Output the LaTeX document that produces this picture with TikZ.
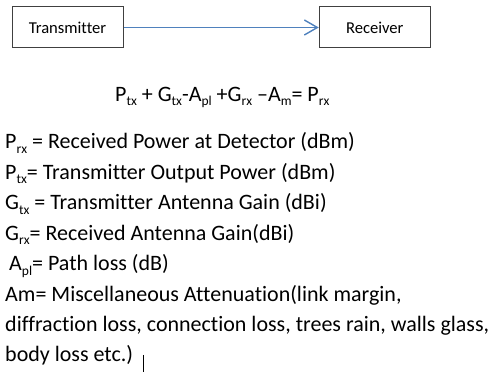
\documentclass[tikz,border=0pt]{standalone}
\usepackage{fontspec}
\setmainfont[Ligatures=CommonOff]{Carlito}
\usetikzlibrary{arrows.meta}
\definecolor{linkblue}{RGB}{79,129,189}
\newcommand{\sbx}[1]{\raisebox{-0.2em}{\fontsize{13.5}{13.5}\selectfont #1}}
\tikzset{
  block/.style={draw=black!75, line width=1pt, minimum width=111pt, minimum height=41pt,
    inner sep=0pt, font=\fontsize{16.6}{19}\selectfont},
  link/.style={draw=linkblue, line width=1.4pt, -{Straight Barb[length=13pt,width=15pt,line width=1.4pt]}},
  txt/.style={anchor=base west, inner sep=0pt, font=\fontsize{22}{26}\selectfont}
}
\begin{document}
\begin{tikzpicture}[x=1pt, y=-1pt]
\useasboundingbox (0,0) rectangle (488,374);
% blocks and link
\node[block] (tx) at (67.5,27.5) {Transmitter};
\node[block] (rx) at (374.75,27.5) {Receiver};
\draw[link] (tx.east) -- (rx.west);
% link budget equation
\node[txt] (eq) at (115,101.5) {P\sbx{tx} + G\sbx{tx}-A\sbx{pl} +G\sbx{rx} –A\sbx{m}= P\sbx{rx}};
% symbol definitions
\node[txt] (l1) at (5,149) {P\sbx{rx} = Received Power at Detector (dBm)};
\node[txt] (l2) at (5,179.5) {P\sbx{tx}= Transmitter Output Power (dBm)};
\node[txt] (l3) at (5,210) {G\sbx{tx} = Transmitter Antenna Gain (dBi)};
\node[txt] (l4) at (5,240.5) {G\sbx{rx}= Received Antenna Gain(dBi)};
\node[txt] (l5) at (9,271) {A\sbx{pl}= Path loss (dB)};
\node[txt] (l6) at (5,301.5) {Am= Miscellaneous Attenuation(link margin,};
\node[txt] (l7) at (5,332) {diffraction loss, connection loss, trees rain, walls glass,};
\node[txt] (l8) at (5,362) {body loss etc.)};
% text cursor after the last line
\coordinate (cur) at ([xshift=10pt]l8.base east);
\draw[line width=1.5pt] ([yshift=7pt]cur) -- ([yshift=-10pt]cur);
\end{tikzpicture}
\end{document}
